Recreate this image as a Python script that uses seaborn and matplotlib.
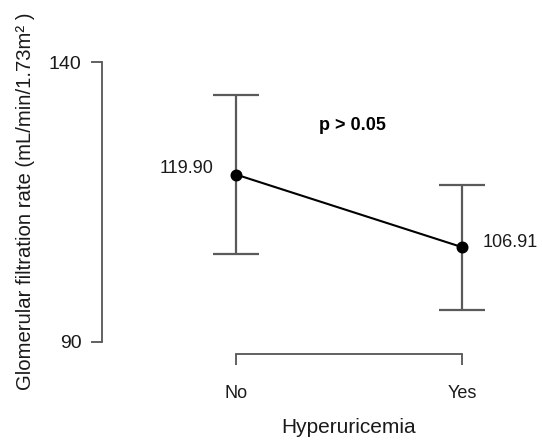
import matplotlib
matplotlib.use("Agg")
import matplotlib.pyplot as plt
import seaborn as sns
import pandas as pd

# ---- data ----
categories = ["No", "Yes"]
means = [119.90, 106.91]
lower = [105.7, 95.7]
upper = [134.2, 118.1]
value_labels = ["119.90", "106.91"]
y_ticks = [90, 140]
x_title = "Hyperuricemia"
y_title = "Glomerular filtration rate (mL/min/1.73m\u00b2 )"
p_text = "p > 0.05"

sns.set_style("white")
plt.rcParams["font.family"] = ["Liberation Sans", "DejaVu Sans"]

W, H = 542, 441
fig = plt.figure(figsize=(W / 100, H / 100), dpi=100)
ax_left, ax_bottom_px, ax_top_px = 101.7, 352.8, 51.0
ax = fig.add_axes([ax_left / W, 1 - ax_bottom_px / H, (W - ax_left) / W,
                   (ax_bottom_px - ax_top_px) / H])

df = pd.DataFrame({"group": categories, "gfr": means})

# error bars (drawn behind the points)
err_lo = [m - l for m, l in zip(means, lower)]
err_hi = [u - m for m, u in zip(means, upper)]
ax.errorbar(x=[0, 1], y=means, yerr=[err_lo, err_hi], fmt="none",
            ecolor="#5a5a5a", elinewidth=1.6, capsize=16.3, capthick=1.6,
            zorder=1)

sns.pointplot(data=df, x="group", y="gfr", order=categories, color="black",
              markers="o", markersize=7.5, linewidth=1.5, errorbar=None,
              ax=ax, zorder=3)

# value labels
ax.annotate(value_labels[0], xy=(0, means[0]), xytext=(-16.5, 4.5),
            textcoords="offset points", ha="right", va="center",
            fontsize=13, color="#1a1a1a")
ax.annotate(value_labels[1], xy=(1, means[1]), xytext=(15, 3),
            textcoords="offset points", ha="left", va="center",
            fontsize=13, color="#1a1a1a")

# p value
ax.text(0.517, 128.6, p_text, ha="center", va="center", fontsize=13,
        fontweight="bold", color="black")

# axes styling (R-like)
ax.set_ylim(88, 142)
ax.set_xlim(-0.594, 1.354)
for s in ["top", "right"]:
    ax.spines[s].set_visible(False)
ax.spines["left"].set_bounds(90, 140)
ax.spines["bottom"].set_bounds(0, 1)
ax.spines["bottom"].set_position(("outward", 1.2))
for s in ["left", "bottom"]:
    ax.spines[s].set_color("#555555")
    ax.spines[s].set_linewidth(1.3)

ax.set_yticks(y_ticks)
ax.set_yticklabels([str(t) for t in y_ticks])
ax.set_xticks([0, 1])
ax.set_xticklabels(categories)
ax.tick_params(axis="y", direction="out", length=7.7, width=1.3,
               color="#555555", pad=7.0, labelsize=14, labelcolor="#1a1a1a",
               left=True)
ax.tick_params(axis="x", direction="out", length=7.7, width=1.3,
               color="#555555", pad=14.0, labelsize=13, labelcolor="#1a1a1a",
               bottom=True)
ax.set_xlabel("")
ax.set_ylabel("")
ax.grid(False)

fig.text(349 / W, 1 - 433 / H, x_title, ha="center", va="baseline",
         fontsize=15, color="#1a1a1a")
fig.text(26 / W, 1 - 201 / H, y_title, ha="center", va="center",
         rotation=90, fontsize=14.6, color="#1a1a1a")

fig.savefig("out.png", dpi=100)
